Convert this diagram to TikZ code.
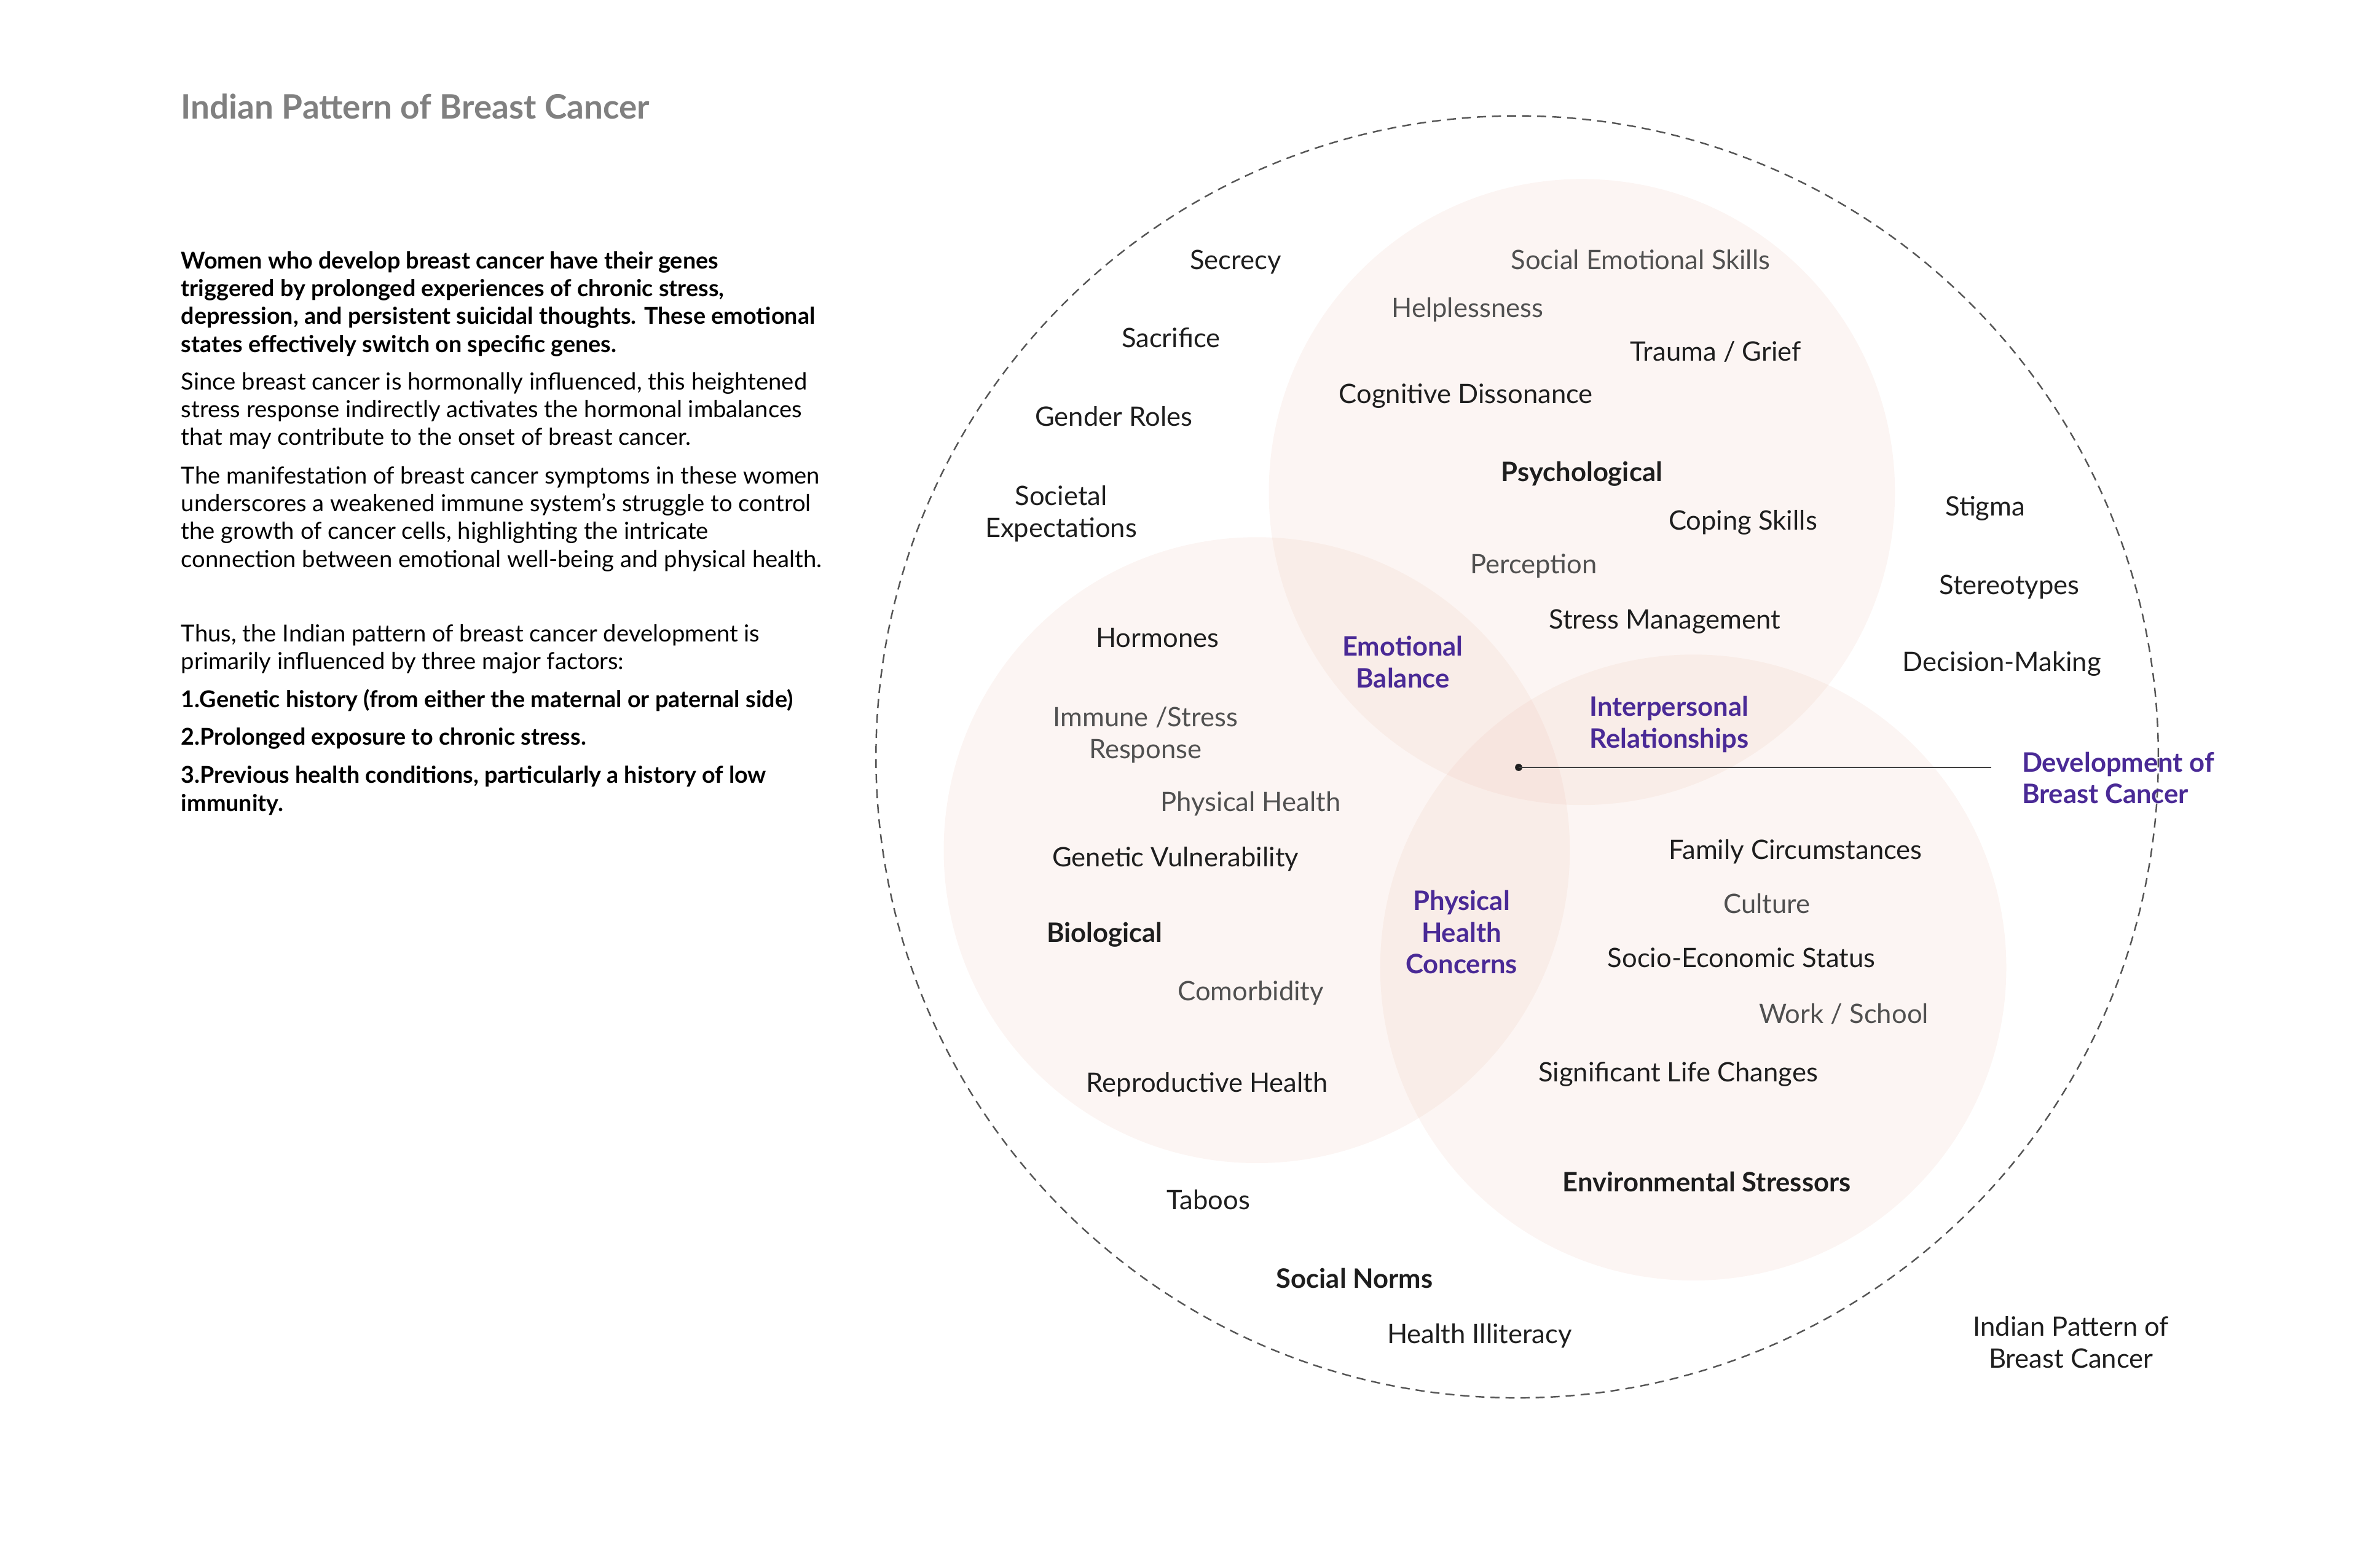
\documentclass[tikz,border=0pt]{standalone}
\usepackage{fontspec}
\setmainfont{Lato}
\usepackage{xcolor}
\usetikzlibrary{calc,positioning}
\definecolor{petalfill}{HTML}{E8B4A0}
\definecolor{inkgray}{HTML}{505050}
\definecolor{inkdark}{HTML}{1E1E1E}
\definecolor{inkpurple}{HTML}{4A2A96}
\definecolor{titlegray}{HTML}{808080}
\definecolor{rimgray}{HTML}{555555}

\begin{document}
\begin{tikzpicture}[x=0.5pt,y=-0.5pt,
    every node/.style={inner sep=0pt,anchor=base},
    petal/.style={fill=petalfill,fill opacity=0.13},
    rim/.style={draw=rimgray,line width=0.5pt,dash pattern=on 3pt off 2pt},
    factor/.style={text=inkdark,font=\fontsize{8.9}{10.5}\selectfont,align=center},
    minor/.style={factor,text=inkgray},
    category/.style={factor,font=\fontsize{8.9}{10.5}\selectfont\bfseries},
    overlap/.style={factor,text=inkpurple,font=\fontsize{8.9}{10.5}\selectfont\bfseries},
    body/.style={text=black,font=\fontsize{7.8}{9.25}\selectfont,align=left,anchor=base west},
    bodybold/.style={body,font=\fontsize{7.7}{9.25}\selectfont\bfseries},
    leader/.style={draw=inkdark!85,line width=0.6pt}]
\useasboundingbox (0,0) rectangle (1568,1041.7);

\fill [petal] (1051,327) circle (104pt);
\fill [petal] (835,565) circle (104pt);
\fill [petal] (1125,643) circle (104pt);
\draw [rim] (1008,503) circle (213pt);

\node [text=titlegray,font=\fontsize{11.2}{13}\selectfont\bfseries,anchor=base west] (title) at (120,79) {Indian Pattern of Breast Cancer};

\node [bodybold] (intro) at (120,234) {Women who develop breast cancer have their genes\\triggered by prolonged experiences of chronic stress,\\depression, and persistent suicidal thoughts. These emotional\\states effectively switch on specific genes.};
\node [body] (hormonal) at (120,296) {Since breast cancer is hormonally influenced, this heightened\\stress response indirectly activates the hormonal imbalances\\that may contribute to the onset of breast cancer.};
\node [body] (immune) at (120,377) {The manifestation of breast cancer symptoms in these women\\underscores a weakened immune system's struggle to control\\the growth of cancer cells, highlighting the intricate\\connection between emotional well-being and physical health.};
\node [body] (thus) at (120,445) {Thus, the Indian pattern of breast cancer development is\\primarily influenced by three major factors:};
\node [bodybold] (factorone) at (120,470) {1.Genetic history (from either the maternal or paternal side)};
\node [bodybold] (factortwo) at (120,495) {2.Prolonged exposure to chronic stress.};
\node [bodybold] (factorthree) at (120,539) {3.Previous health conditions, particularly a history of low\\immunity.};

\node [factor] (secrecy) at (821,179) {Secrecy};
\node [factor] (sacrifice) at (778,231) {Sacrifice};
\node [factor] (genderroles) at (740,283) {Gender Roles};
\node [factor] (societal) at (705,357) {Societal\\Expectations};
\node [minor] (socialskills) at (1090,179) {Social Emotional Skills};
\node [minor] (helpless) at (975,211) {Helplessness};
\node [factor] (trauma) at (1140,240) {Trauma / Grief};
\node [factor] (cognitive) at (974,268) {Cognitive Dissonance};
\node [category] (psych) at (1051,320) {Psychological};
\node [factor] (coping) at (1158,352) {Coping Skills};
\node [minor] (perception) at (1019,381) {Perception};
\node [factor] (stressmgmt) at (1106,418) {Stress Management};
\node [factor] (stigma) at (1319,343) {Stigma};
\node [factor] (stereo) at (1335,395) {Stereotypes};
\node [factor] (decision) at (1330,446) {Decision-Making};
\node [factor] (hormones) at (769,430) {Hormones};
\node [overlap] (emotional) at (932,457) {Emotional\\Balance};
\node [overlap] (interpersonal) at (1109,497) {Interpersonal\\Relationships};
\node [minor] (immresp) at (761,504) {Immune /Stress\\Response};
\node [minor] (physhealth) at (831,539) {Physical Health};
\node [overlap,align=left,anchor=base west] (development) at (1343,534) {Development of\\Breast Cancer};
\node [factor] (genetic) at (781,576) {Genetic Vulnerability};
\node [factor] (family) at (1193,571) {Family Circumstances};
\node [minor] (culture) at (1174,607) {Culture};
\node [overlap] (physconcerns) at (971,647) {Physical\\Health\\Concerns};
\node [category] (bio) at (734,626) {Biological};
\node [factor] (socioeco) at (1157,643) {Socio-Economic Status};
\node [minor] (comorb) at (831,665) {Comorbidity};
\node [minor] (work) at (1225,680) {Work / School};
\node [factor] (lifechanges) at (1115,719) {Significant Life Changes};
\node [factor] (reproductive) at (802,726) {Reproductive Health};
\node [category] (envstress) at (1134,792) {Environmental Stressors};
\node [factor] (taboos) at (803,804) {Taboos};
\node [category] (socialnorms) at (900,856) {Social Norms};
\node [factor] (illiteracy) at (983,893) {Health Illiteracy};
\node [factor] (indianpattern) at (1376,909) {Indian Pattern of\\Breast Cancer};

\node [circle,fill=inkdark,minimum size=2.4pt,anchor=center] (hub) at (1009,510) {};
\draw [leader] (hub.center) -- ($(hub.center -| development.west)+(-20,0)$);
\end{tikzpicture}
\end{document}
